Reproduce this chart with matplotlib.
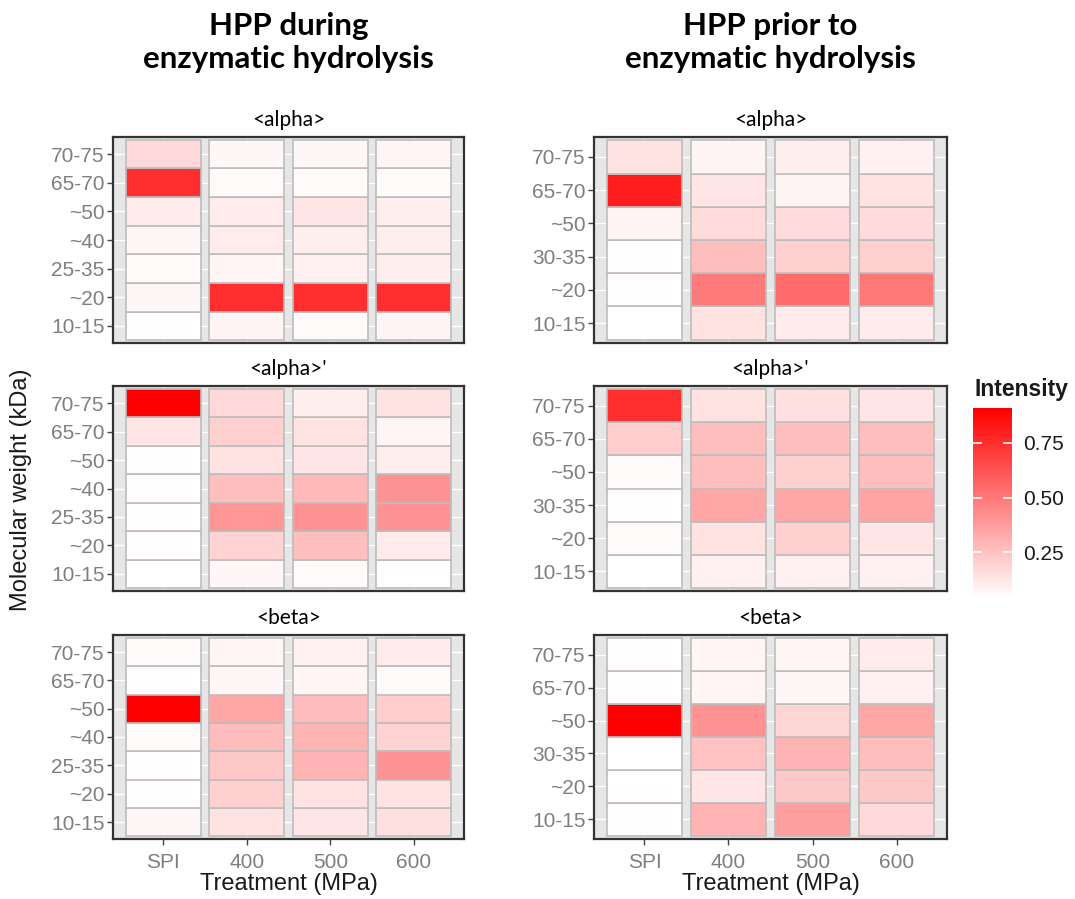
import matplotlib
matplotlib.use("Agg")
import matplotlib.pyplot as plt
import numpy as np
from matplotlib.colors import LinearSegmentedColormap, Normalize
from matplotlib.cm import ScalarMappable

treatments = ['SPI', '400', '500', '600']
mw_during = ['10-15', '~20', '25-35', '~40', '~50', '65-70', '70-75']
mw_prior = ['10-15', '~20', '30-35', '~50', '65-70', '70-75']

# rows follow the molecular-weight lists (bottom to top), columns follow treatments
alpha_during = [
    [0.05, 0.08, 0.06, 0.08],
    [0.07, 0.75, 0.75, 0.75],
    [0.06, 0.075, 0.09, 0.10],
    [0.07, 0.11, 0.10, 0.10],
    [0.11, 0.11, 0.13, 0.10],
    [0.75, 0.06, 0.06, 0.06],
    [0.17, 0.07, 0.07, 0.075],
]
alpha_prior = [
    [0.04, 0.14, 0.11, 0.11],
    [0.05, 0.49, 0.54, 0.50],
    [0.05, 0.26, 0.20, 0.20],
    [0.08, 0.16, 0.16, 0.16],
    [0.81, 0.13, 0.08, 0.14],
    [0.14, 0.08, 0.10, 0.09],
]
alphap_during = [
    [0.04, 0.07, 0.06, 0.05],
    [0.05, 0.19, 0.26, 0.11],
    [0.05, 0.40, 0.41, 0.41],
    [0.05, 0.26, 0.28, 0.41],
    [0.05, 0.14, 0.13, 0.10],
    [0.13, 0.20, 0.14, 0.075],
    [0.91, 0.17, 0.10, 0.14],
]
alphap_prior = [
    [0.04, 0.09, 0.09, 0.09],
    [0.06, 0.14, 0.20, 0.13],
    [0.05, 0.34, 0.34, 0.35],
    [0.06, 0.26, 0.20, 0.26],
    [0.21, 0.26, 0.26, 0.26],
    [0.75, 0.14, 0.15, 0.13],
]
beta_during = [
    [0.07, 0.14, 0.13, 0.15],
    [0.05, 0.20, 0.14, 0.14],
    [0.05, 0.23, 0.30, 0.41],
    [0.06, 0.27, 0.30, 0.19],
    [0.91, 0.34, 0.27, 0.21],
    [0.05, 0.07, 0.075, 0.06],
    [0.06, 0.075, 0.09, 0.11],
]
beta_prior = [
    [0.05, 0.30, 0.37, 0.17],
    [0.05, 0.13, 0.23, 0.23],
    [0.04, 0.25, 0.30, 0.26],
    [0.91, 0.41, 0.18, 0.34],
    [0.05, 0.075, 0.07, 0.09],
    [0.05, 0.075, 0.075, 0.11],
]

subunits = ['<alpha>', "<alpha>'", '<beta>']
col_titles = ['HPP during\nenzymatic hydrolysis', 'HPP prior to\nenzymatic hydrolysis']
cbar_ticks = [0.25, 0.50, 0.75]

panels = [
    [(alpha_during, mw_during), (alpha_prior, mw_prior)],
    [(alphap_during, mw_during), (alphap_prior, mw_prior)],
    [(beta_during, mw_during), (beta_prior, mw_prior)],
]

W, H = 1075, 899
fig = plt.figure(figsize=(W / 100, H / 100), dpi=100)

cmap = LinearSegmentedColormap.from_list('wr', ['#FFFFFF', '#FF0000'])
norm = Normalize(vmin=0.04, vmax=0.91)

sans = ['Liberation Sans', 'DejaVu Sans']
title_font = ['Lato', 'DejaVu Sans']

col_x = [(113, 464), (594, 947)]
row_y = [(137, 343), (386, 591), (635, 839)]

def fig_rect(x0, x1, y0, y1):
    return [x0 / W, 1 - y1 / H, (x1 - x0) / W, (y1 - y0) / H]

for r in range(3):
    for c in range(2):
        data, mw = panels[r][c]
        x0, x1 = col_x[c]
        y0, y1 = row_y[r]
        ax = fig.add_axes(fig_rect(x0, x1, y0, y1))
        ax.set_facecolor('#E6E6E6')
        arr = np.array(data)
        nrow = len(mw)
        xs = np.arange(len(treatments))
        for i in range(nrow):
            ax.bar(xs, 1.0, bottom=i - 0.5, width=0.9,
                   color=cmap(norm(arr[i])), edgecolor='#BDBDBD',
                   linewidth=1.2, zorder=3)
        ax.set_xlim(-0.6, len(treatments) - 0.4)
        ax.set_ylim(-0.6, nrow - 0.4)
        ax.set_yticks(range(nrow))
        ax.set_yticklabels(mw, fontsize=15, color='#7F7F7F', family=sans)
        ax.set_xticks(xs)
        for v in xs:
            ax.axvline(v, color='white', lw=1.0, zorder=1)
        for v in range(nrow):
            ax.axhline(v, color='white', lw=1.0, zorder=1)
        if r == 2:
            ax.set_xticklabels(treatments, fontsize=15, color='#7F7F7F', family=sans)
            ax.tick_params(axis='x', length=4, color='#444444', width=1, pad=6)
            ax.set_xlabel('Treatment (MPa)', fontsize=17, color='#1A1A1A',
                          family=sans, labelpad=1)
        else:
            ax.set_xticklabels([])
            ax.tick_params(axis='x', length=0)
        ax.tick_params(axis='y', length=4, color='#444444', width=1, pad=2)
        for s in ax.spines.values():
            s.set_color('#333333')
            s.set_linewidth(1.6)
        ax.text(0.5, 1.035, subunits[r], transform=ax.transAxes, ha='center',
                va='bottom', fontsize=15, family=title_font, color='black')

for c in range(2):
    x0, x1 = col_x[c]
    fig.text(((x0 + x1) / 2) / W, 1 - 12 / H, col_titles[c], ha='center', va='top',
             fontsize=22.5, fontweight='bold', family=title_font, color='black',
             linespacing=1.2)

fig.text(21 / W, 1 - 490 / H, 'Molecular weight (kDa)', rotation=90, ha='center',
         va='center', fontsize=17, color='#1A1A1A', family=sans)

# colorbar
cax = fig.add_axes(fig_rect(973, 1012, 408, 598))
sm = ScalarMappable(norm=norm, cmap=cmap)
cb = fig.colorbar(sm, cax=cax, ticks=cbar_ticks)
cb.outline.set_visible(False)
cb.ax.set_yticklabels(['0.25', '0.50', '0.75'], fontsize=15, color='#1A1A1A', family=sans)
cb.ax.tick_params(length=0, pad=8)
for t in cbar_ticks:
    cax.plot([0, 0.2], [t, t], color='white', lw=1.2, transform=cax.get_yaxis_transform())
    cax.plot([0.8, 1.0], [t, t], color='white', lw=1.2, transform=cax.get_yaxis_transform())
fig.text(974 / W, 1 - 390 / H, 'Intensity', ha='left', va='center', fontsize=16.5,
         fontweight='bold', color='#1A1A1A', family=sans)

fig.savefig('out.png', dpi=100)
